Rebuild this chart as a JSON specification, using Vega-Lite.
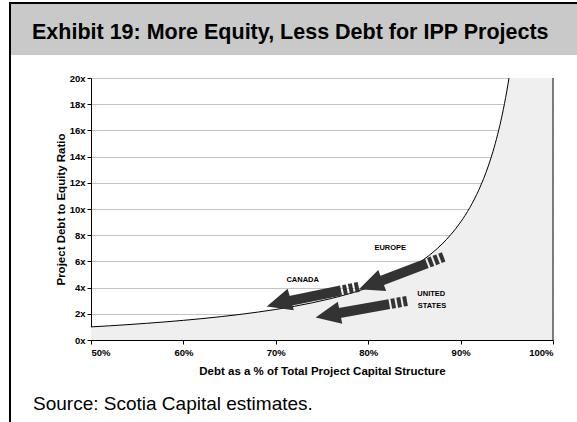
{
  "$schema": "https://vega.github.io/schema/vega-lite/v6.json",
  "background": "white",
  "padding": {"left": 7, "top": 0, "right": 0, "bottom": 0},
  "config": {
    "view": {"stroke": null},
    "font": "Liberation Sans",
    "axis": {"labelFont": "Liberation Sans", "titleFont": "Liberation Sans", "labelColor": "black", "titleColor": "black"}
  },
  "datasets": {
    "curve": [
      {"x": 50, "y": 1.0}, {"x": 52, "y": 1.083}, {"x": 54, "y": 1.174}, {"x": 56, "y": 1.273},
      {"x": 58, "y": 1.381}, {"x": 60, "y": 1.5}, {"x": 62, "y": 1.632}, {"x": 64, "y": 1.778},
      {"x": 66, "y": 1.941}, {"x": 68, "y": 2.125}, {"x": 70, "y": 2.333}, {"x": 72, "y": 2.571},
      {"x": 74, "y": 2.846}, {"x": 76, "y": 3.167}, {"x": 78, "y": 3.545}, {"x": 80, "y": 4.0},
      {"x": 81, "y": 4.263}, {"x": 82, "y": 4.556}, {"x": 83, "y": 4.882}, {"x": 84, "y": 5.25},
      {"x": 85, "y": 5.667}, {"x": 86, "y": 6.143}, {"x": 87, "y": 6.692}, {"x": 88, "y": 7.333},
      {"x": 89, "y": 8.091}, {"x": 90, "y": 9.0}, {"x": 90.5, "y": 9.526}, {"x": 91, "y": 10.111},
      {"x": 91.5, "y": 10.765}, {"x": 92, "y": 11.5}, {"x": 92.5, "y": 12.333}, {"x": 93, "y": 13.286},
      {"x": 93.5, "y": 14.385}, {"x": 94, "y": 15.667}, {"x": 94.5, "y": 17.182}, {"x": 95, "y": 19.0},
      {"x": 95.24, "y": 20.0}, {"x": 100, "y": 20.0}
    ],
    "border": [{"x": 100, "y": 0, "y2": 20}],
    "arrows": [
      {"arrow": "EUROPE", "p": 0, "x": 88.17, "y": 6.34},
      {"arrow": "EUROPE", "p": 1, "x": 81.17, "y": 4.46},
      {"arrow": "CANADA", "p": 0, "x": 78.97, "y": 4.05},
      {"arrow": "CANADA", "p": 1, "x": 71.28, "y": 2.95},
      {"arrow": "US", "p": 0, "x": 84.2, "y": 2.98},
      {"arrow": "US", "p": 1, "x": 76.59, "y": 2.02}
    ],
    "heads": [
      {"arrow": "EUROPE", "x": 80.26, "y": 4.21},
      {"arrow": "CANADA", "x": 70.32, "y": 2.82},
      {"arrow": "US", "x": 75.63, "y": 1.9}
    ],
    "labels": [
      {"label": "EUROPE", "x": 82.39, "y": 7.02},
      {"label": "CANADA", "x": 72.91, "y": 4.6},
      {"label": "UNITED", "x": 86.83, "y": 3.53},
      {"label": "STATES", "x": 86.9, "y": 2.6}
    ]
  },
  "spacing": 0,
  "bounds": "flush",
  "vconcat": [
    {
      "width": 570, "height": 2,
      "view": {"fill": "black", "stroke": null},
      "data": {"values": [{}]},
      "mark": {"type": "point", "opacity": 0}
    },
    {
      "spacing": 0,
      "bounds": "flush",
      "hconcat": [
        {
          "width": 2, "height": 420,
          "view": {"fill": "black", "stroke": null},
          "data": {"values": [{}]},
          "mark": {"type": "point", "opacity": 0}
        },
        {
          "spacing": 23,
          "bounds": "flush",
          "vconcat": [
            {
              "width": 568, "height": 51,
              "view": {"fill": "#c9c9c9", "stroke": null},
              "data": {"values": [{}]},
              "mark": {"type": "point", "opacity": 0},
              "title": {
                "text": "Exhibit 19: More Equity, Less Debt for IPP Projects",
                "orient": "top", "anchor": "start", "frame": "group",
                "offset": -56, "dx": 21, "baseline": "alphabetic",
                "fontSize": 21.5, "fontWeight": "bold", "font": "Liberation Sans", "color": "black"
              }
            },
            {
              "width": 542, "height": 262,
              "title": {
                "text": "Source: Scotia Capital estimates.",
                "orient": "bottom", "anchor": "start", "frame": "group",
                "offset": 33, "dx": 22, "baseline": "alphabetic",
                "fontSize": 19, "fontWeight": "normal", "font": "Liberation Sans", "color": "black"
              },
              "encoding": {
                "x": {
                  "field": "x", "type": "quantitative",
                  "scale": {"domain": [50, 100], "range": [80, 542], "nice": false, "zero": false},
                  "axis": {
                    "values": [50, 60, 70, 80, 90, 100],
                    "labelExpr": "datum.value + '%'",
                    "title": "Debt as a % of Total Project Capital Structure",
                    "labelFontSize": 9.5, "labelFontWeight": "bold",
                    "titleFontSize": 11.5, "titleFontWeight": "bold",
                    "tickColor": "black", "domainColor": "black", "tickSize": 4,
                    "labelPadding": 3, "titlePadding": 9, "grid": false, "labelOverlap": false
                  }
                },
                "y": {
                  "field": "y", "type": "quantitative",
                  "scale": {"domain": [0, 20], "nice": false},
                  "axis": {
                    "values": [0, 2, 4, 6, 8, 10, 12, 14, 16, 18, 20],
                    "labelExpr": "datum.value + 'x'",
                    "title": "Project Debt to Equity Ratio",
                    "offset": -80,
                    "grid": true, "gridColor": "#c4c4c4", "gridWidth": 1,
                    "labelFontSize": 9.5, "labelFontWeight": "bold",
                    "titleFontSize": 11.5, "titleFontWeight": "bold",
                    "tickColor": "black", "domainColor": "black", "tickSize": 4,
                    "labelPadding": 2, "titlePadding": 3, "labelOverlap": false
                  }
                }
              },
              "layer": [
                {
                  "data": {"name": "curve"},
                  "mark": {"type": "area", "color": "#efefef", "interpolate": "monotone"}
                },
                {
                  "data": {"name": "curve"},
                  "transform": [{"filter": "datum.x < 100"}],
                  "mark": {"type": "line", "color": "black", "strokeWidth": 1, "interpolate": "monotone"}
                },
                {
                  "data": {"name": "border"},
                  "mark": {"type": "rule", "color": "black", "strokeWidth": 1},
                  "encoding": {"y2": {"field": "y2"}}
                },
                {
                  "data": {"name": "arrows"},
                  "mark": {"type": "line", "color": "#333333", "strokeWidth": 10, "strokeCap": "butt", "strokeDash": [4, 2, 4, 2, 4, 2, 400, 0]},
                  "encoding": {
                    "detail": {"field": "arrow"},
                    "order": {"field": "p"}
                  }
                },
                {
                  "data": {"name": "heads"},
                  "mark": {"type": "point", "shape": "M -1 0 L 1 -0.9 L 1 0.9 Z", "filled": true, "color": "#333333", "size": 620, "opacity": 1},
                  "encoding": {
                    "angle": {
                      "field": "arrow", "type": "nominal",
                      "scale": {"domain": ["EUROPE", "CANADA", "US"], "range": [339.2, 348.6, 349.9]},
                      "legend": null
                    }
                  }
                },
                {
                  "data": {"name": "labels"},
                  "mark": {"type": "text", "fontSize": 7.5, "fontWeight": "bold", "font": "Liberation Sans", "color": "black"},
                  "encoding": {"text": {"field": "label"}}
                }
              ]
            }
          ]
        }
      ]
    }
  ]
}
